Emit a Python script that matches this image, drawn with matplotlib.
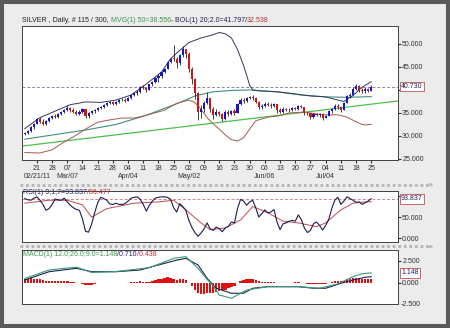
import numpy as np
import pandas as pd
import matplotlib
matplotlib.use('Agg')
import matplotlib.pyplot as plt
import matplotlib.transforms as mtransforms
from matplotlib.offsetbox import TextArea, HPacker, AnchoredOffsetbox
from matplotlib.patches import Rectangle
from matplotlib.lines import Line2D

plt.rcParams['font.family'] = ['Liberation Sans', 'DejaVu Sans']

# Daily silver bars, 15 Feb - 25 Jul 2011
dates = pd.bdate_range('2011-02-15', '2011-07-25')

open_ = [30.4, 30.7, 31.1, 31.9, 32.7, 33.6, 33.0, 32.7, 33.3, 33.9,
         34.4, 34.2, 34.8, 35.2, 35.6, 36.0, 35.6, 35.3, 34.8, 35.3,
         35.8, 34.3, 35.0, 35.4, 35.6, 36.1, 36.3, 36.8, 37.2, 37.3,
         37.0, 37.4, 37.8, 37.9, 37.7, 38.3, 39.0, 39.3, 39.5, 40.6,
         40.5, 40.0, 41.2, 41.7, 42.6, 43.0, 43.9, 44.6, 46.0, 47.0,
         46.8, 45.9, 47.5, 48.8, 47.8, 44.6, 42.3, 39.3, 35.3, 35.8,
         37.1, 38.2, 35.9, 34.5, 35.2, 34.7, 33.7, 35.3, 34.7, 35.4,
         35.0, 37.0, 37.9, 37.6, 38.2, 38.5, 38.3, 37.4, 36.3, 36.6,
         37.0, 36.8, 36.5, 36.9, 35.6, 35.3, 35.9, 35.6, 35.7, 36.0,
         35.8, 36.5, 36.2, 34.9, 35.0, 34.1, 34.7, 34.5, 34.8, 33.9,
         34.4, 35.4, 35.8, 36.6, 36.2, 35.7, 37.2, 38.6, 39.0, 40.3,
         40.8, 40.0, 39.7, 40.2, 39.8]
high = [30.9, 31.3, 32.1, 32.9, 33.9, 34.1, 33.6, 33.5, 34.1, 34.6,
        34.8, 35.0, 35.4, 35.9, 36.8, 36.3, 36.0, 35.6, 35.6, 36.0,
        35.9, 35.3, 35.6, 35.9, 36.3, 36.5, 37.0, 37.4, 37.6, 37.5,
        37.6, 38.0, 38.2, 38.3, 38.5, 39.2, 39.5, 39.9, 40.8, 41.0,
        40.7, 41.4, 41.9, 42.8, 43.4, 44.1, 44.8, 46.2, 47.0, 49.8,
        47.2, 47.8, 49.5, 49.0, 48.2, 44.9, 42.6, 39.6, 36.8, 37.5,
        39.5, 38.3, 36.2, 35.9, 35.5, 35.0, 35.6, 35.6, 35.7, 35.8,
        37.2, 38.2, 38.2, 38.5, 38.7, 38.8, 38.5, 37.5, 36.9, 37.3,
        37.4, 37.2, 37.1, 37.0, 36.0, 36.2, 36.1, 36.0, 36.2, 36.3,
        36.7, 36.7, 36.3, 35.3, 35.1, 34.9, 35.0, 35.0, 34.9, 34.6,
        35.6, 36.0, 36.9, 37.0, 36.4, 37.4, 38.9, 39.3, 40.6, 41.3,
        41.0, 40.5, 40.6, 40.5, 41.0]
low = [30.2, 30.5, 30.9, 31.6, 32.5, 32.8, 32.4, 32.3, 33.0, 33.6,
       33.9, 34.0, 34.5, 35.0, 35.4, 35.3, 35.0, 34.6, 34.6, 35.0,
       33.9, 34.0, 34.8, 35.1, 35.4, 35.8, 36.1, 36.5, 36.9, 36.8,
       36.7, 37.2, 37.5, 37.4, 37.6, 38.1, 38.7, 39.0, 39.3, 40.2,
       39.6, 39.9, 40.9, 41.5, 41.7, 42.7, 43.6, 44.5, 45.8, 46.2,
       44.8, 45.5, 47.2, 46.9, 43.8, 41.4, 38.1, 33.5, 34.0, 35.2,
       36.9, 35.3, 33.6, 34.3, 34.3, 33.2, 33.5, 34.3, 34.6, 34.6,
       34.9, 36.8, 37.2, 37.4, 38.0, 37.9, 37.1, 35.9, 35.8, 36.3,
       36.5, 36.1, 36.2, 35.1, 35.0, 35.1, 35.4, 35.3, 35.5, 35.6,
       35.7, 36.0, 34.5, 34.6, 33.7, 34.0, 34.3, 34.2, 33.5, 33.8,
       34.3, 35.1, 35.6, 35.9, 35.3, 35.6, 37.1, 38.2, 38.8, 40.0,
       39.6, 39.4, 39.4, 39.5, 39.7]
close = [30.7, 31.1, 31.9, 32.7, 33.6, 33.0, 32.7, 33.3, 33.9, 34.4,
         34.2, 34.8, 35.2, 35.6, 36.0, 35.6, 35.3, 34.8, 35.3, 35.8,
         34.3, 35.0, 35.4, 35.6, 36.1, 36.3, 36.8, 37.2, 37.3, 37.0,
         37.4, 37.8, 37.9, 37.7, 38.3, 39.0, 39.3, 39.5, 40.6, 40.5,
         40.0, 41.2, 41.7, 42.6, 43.0, 43.9, 44.6, 46.0, 46.8, 46.8,
         45.9, 47.5, 48.8, 47.8, 44.6, 42.3, 39.3, 35.3, 35.8, 37.1,
         38.2, 35.9, 34.5, 35.2, 34.7, 33.7, 35.3, 34.7, 35.4, 35.0,
         37.0, 37.9, 37.6, 38.2, 38.5, 38.3, 37.4, 36.3, 36.6, 37.0,
         36.8, 36.5, 36.9, 35.6, 35.3, 35.9, 35.6, 35.7, 36.0, 35.8,
         36.5, 36.2, 34.9, 35.0, 34.1, 34.7, 34.5, 34.8, 33.9, 34.4,
         35.4, 35.8, 36.6, 36.2, 35.7, 37.2, 38.6, 39.0, 40.3, 40.8,
         40.0, 39.7, 40.2, 39.8, 40.73]

# overlays (bar index, value)
upper_idx = [0, 5, 10, 15, 20, 25, 30, 35, 40, 45, 48, 51, 54, 58, 62, 64, 66, 68, 70,
             72, 73, 74, 75, 77, 83, 87, 94, 99, 103, 105, 108, 111, 114]
upper_val = [31.6, 34.0, 35.4, 36.8, 37.4, 37.3, 37.8, 38.9, 41.3, 43.9, 46.8, 48.6, 50.3,
             51.3, 52.0, 52.5, 52.2, 51.3, 48.8, 45.3, 43.2, 41.0, 40.0, 39.8, 39.6, 39.3,
             38.7, 38.5, 37.8, 37.5, 38.8, 40.6, 41.797]
lower_idx = [0, 5, 9, 13, 17, 20, 24, 28, 32, 36, 40, 46, 50, 54, 56, 58, 60, 62, 64, 66,
             68, 70, 72, 74, 76, 80, 83, 87, 92, 98, 103, 106, 109, 111, 112, 113, 114]
lower_val = [26.4, 26.3, 27.0, 28.7, 30.2, 31.5, 33.0, 33.5, 33.9, 33.9, 34.5, 35.6, 37.1,
             37.8, 37.3, 35.8, 34.0, 32.6, 31.5, 30.2, 29.2, 28.9, 29.6, 31.5, 33.3, 34.1,
             34.3, 35.0, 35.2, 34.6, 34.6, 34.1, 33.1, 32.5, 32.4, 32.45, 32.538]
ma_idx = [0, 10, 20, 30, 40, 50, 56, 62, 68, 74, 83, 91, 99, 106, 114]
ma_val = [29.3, 30.3, 31.3, 32.5, 34.5, 37.0, 38.7, 39.6, 39.9, 40.0, 39.6, 38.9, 38.5,
          38.4, 38.556]
trend_idx = [-0.9, 122.7]
trend_val = [27.8, 37.6]

rsi = [94, 91, 90, 95, 98, 90, 80, 66, 70, 80, 93, 91, 90, 95, 86, 78, 72, 68, 66, 45,
       16, 14, 33, 60, 84, 97, 94, 90, 81, 80, 83, 80, 80, 82, 88, 95, 97, 98, 92, 80,
       64, 78, 88, 95, 97, 98, 98, 97, 92, 72, 62, 82, 75, 66, 42, 25, 13, 4, 12, 22,
       36, 22, 18, 26, 22, 15, 24, 28, 38, 36, 70, 92, 88, 78, 86, 90, 72, 50, 58, 67,
       60, 62, 68, 38, 20, 34, 36, 40, 42, 40, 55, 44, 24, 13, 18, 34, 38, 30, 19, 30,
       44, 70, 90, 97, 80, 88, 98, 94, 90, 85, 86, 80, 84, 88, 93.837]
rsima_idx = [0, 8, 14, 19, 22, 27, 36, 44, 49, 53, 58, 61, 66, 71, 75, 80, 85, 90, 96, 99,
             104, 108, 112, 114]
rsima_val = [83, 90, 90, 79, 50, 70, 83, 86, 90, 67, 36, 20, 24, 43, 75, 60, 40, 36, 27, 36,
             67, 83, 86, 86.477]

macd_idx = [0, 8, 17, 22, 30, 41, 49, 53, 57, 60, 62, 64, 68, 73, 80, 90, 97, 103, 108, 111, 114]
macd_val = [0.5, 1.48, 1.8, 1.2, 1.3, 1.74, 2.8, 3.0, 1.67, 0.4, -0.3, -1.36, -1.74, -0.8,
            -0.42, -0.42, -0.6, -0.1, 0.72, 1.05, 1.148]
sig_idx = [0, 8, 17, 22, 30, 38, 44, 50, 53, 57, 60, 63, 68, 72, 75, 80, 90, 95, 99, 104,
           108, 112, 114]
sig_val = [0.34, 1.28, 1.67, 1.28, 1.28, 1.48, 2.05, 2.6, 2.8, 2.05, 0.53, -0.6, -1.17, -1.17,
           -0.6, -0.42, -0.42, -0.6, -0.6, -0.04, 0.34, 0.65, 0.71]
hist = [0.45, 0.5, 0.55, 0.5, 0.45, 0.4, 0.3, 0.2, 0.2, 0.2, 0.22, 0.2, 0.18, 0.2, 0.22,
        0.15, 0.1, 0.05, 0.0, -0.08, -0.18, -0.22, -0.2, -0.12, -0.05, 0.02, 0.03, 0.02, 0.0,
        -0.02, -0.03, -0.02, 0.0, 0.02, 0.05, 0.1, 0.12, 0.15, 0.18, 0.15, 0.08, 0.12, 0.2,
        0.3, 0.4, 0.5, 0.6, 0.65, 0.6, 0.45, 0.35, 0.45, 0.4, 0.3, 0.05, -0.35, -0.75, -1.1,
        -1.3, -1.25, -1.1, -1.15, -1.1, -1.0, -0.95, -0.85, -0.75, -0.6, -0.45, -0.3, -0.05,
        0.2, 0.3, 0.4, 0.45, 0.4, 0.3, 0.18, 0.15, 0.15, 0.12, 0.1, 0.1, 0.05, 0.0, 0.02,
        0.03, 0.05, 0.05, 0.06, 0.08, 0.05, -0.05, -0.12, -0.15, -0.12, -0.1, -0.1, -0.12,
        -0.08, 0.0, 0.1, 0.2, 0.25, 0.2, 0.28, 0.4, 0.5, 0.6, 0.6, 0.55, 0.45, 0.42, 0.45, 0.438]

month_days = ['2011-02-21', '2011-03-07', '2011-04-04', '2011-05-02', '2011-06-06', '2011-07-04']
month_labels = ['02/21/11', 'Mar/07', 'Apr/04', 'May/02', 'Jun/06', 'Jul/04']

W, H = 450, 328
FS = 5


def box(x0, y0, x1, y1):
    return [x0 / W, 1 - y1 / H, (x1 - x0) / W, (y1 - y0) / H]


def pieces(fig, x, y, parts, loc='center left'):
    areas = [TextArea(t, textprops=dict(color=c, size=FS)) for t, c in parts]
    pack = HPacker(children=areas, pad=0, sep=0, align='baseline')
    ab = AnchoredOffsetbox(loc=loc, child=pack, pad=0, borderpad=0, frameon=False,
                           bbox_to_anchor=(x / W, 1 - y / H), bbox_transform=fig.transFigure)
    fig.add_artist(ab)


def value_box(a, val, txt, edge='#c05050'):
    tr = mtransforms.blended_transform_factory(a.transAxes, a.transData)
    a.text(1.008, val, txt, transform=tr, ha='left', va='center', fontsize=FS,
           color='#202060', zorder=10,
           bbox=dict(boxstyle='square,pad=0.2', fc='white', ec=edge, lw=0.6))


def style(a):
    a.set_facecolor('white')
    for s in a.spines.values():
        s.set_color('#404040')
        s.set_linewidth(0.7)
    a.yaxis.tick_right()
    a.tick_params(axis='y', length=2, pad=1, labelsize=FS, colors='#303030')
    a.set_xlim(-0.9, 122.8)


def fmt3(v, pos):
    return '%.3f' % v


fig = plt.figure(figsize=(4.5, 3.28), dpi=100, facecolor='#ececec')
fig.add_artist(Rectangle((0, 0), 1, 1, transform=fig.transFigure, fill=False,
                         ec='#5a5a5a', lw=5.8))

x = np.arange(len(close))
o, h, l, c = map(np.array, (open_, high, low, close))
up = c >= o

# price panel
ax = fig.add_axes(box(22, 26, 398, 160))
style(ax)
ax.set_ylim(24.78, 53.9)
# the 40 level sits under the last-price box, so only its tick mark is kept
ax.set_yticks([25, 30, 35, 40, 45, 50])
ax.set_yticklabels(['25.000', '30.000', '35.000', '', '45.000', '50.000'])
ax.plot(trend_idx, trend_val, color='#4cc24c', lw=0.9, zorder=2)
ax.plot(ma_idx, ma_val, color='#3f9080', lw=0.8, zorder=2)
ax.plot(upper_idx, upper_val, color='#30395a', lw=0.7, zorder=2)
ax.plot(lower_idx, lower_val, color='#a35a52', lw=0.7, zorder=2)
ax.axhline(close[-1], color='#8888a0', lw=0.7, ls=(0, (3, 2)), zorder=1)
ax.vlines(x, l, h, color='#202020', lw=0.6, zorder=3)
ax.bar(x[up], (c - o)[up], bottom=o[up], width=0.7, color='#1414c8', lw=0, zorder=4)
ax.bar(x[~up], (o - c)[~up], bottom=c[~up], width=0.7, color='#d41414', lw=0, zorder=4)
value_box(ax, close[-1], '%.3f' % close[-1])

mondays = [i for i, d in enumerate(dates) if d.weekday() == 0]
ax.set_xticks(mondays)
ax.set_xticklabels([dates[i].strftime('%d') for i in mondays])
ax.tick_params(axis='x', length=2, pad=1.5, labelsize=FS, colors='#303030')
trx = mtransforms.blended_transform_factory(ax.transData, ax.transAxes)
for d, lab in zip(month_days, month_labels):
    ax.text(dates.get_loc(pd.Timestamp(d)), -0.12, lab, transform=trx, ha='center',
            va='center', fontsize=FS, color='#303030')

pieces(fig, 22, 20, [('SILVER , Daily, # 115 / 300, ', '#202020'),
                     ('MVG(1) 50=38.556', '#3a9a4a'),
                     (', ', '#202020'),
                     ('BOL(1) 20;2.0=41.797/', '#202060'),
                     ('32.538', '#c03030')])

# RSI panel
ax_rsi = fig.add_axes(box(22, 191, 398, 242))
style(ax_rsi)
ax_rsi.set_ylim(-9.5, 112)
ax_rsi.set_yticks([0, 50, 100])
ax_rsi.set_yticklabels(['0.000', '50.000', ''])
ax_rsi.set_xticks([])
ax_rsi.axhline(rsi[-1], color='#d08888', lw=0.7, ls=(0, (3, 2)))
ax_rsi.plot(rsima_idx, rsima_val, color='#c04a4a', lw=0.7)
ax_rsi.plot(x, rsi, color='#1c1c50', lw=0.8)
value_box(ax_rsi, rsi[-1], '%.3f' % rsi[-1])
pieces(fig, 23, 193, [('RSI(1) 9;1;7=93.837', '#202060'), ('/86.477', '#c03030')])

# MACD panel
ax_macd = fig.add_axes(box(22, 250, 398, 304))
style(ax_macd)
ax_macd.set_ylim(-2.39, 3.75)
ax_macd.set_yticks([0, 2.5])
ax_macd.yaxis.set_major_formatter(plt.FuncFormatter(fmt3))
ax_macd.set_xticks([])
ax_macd.bar(x, hist, width=0.8, color='#e01010', lw=0)
ax_macd.plot(sig_idx, sig_val, color='#1c2050', lw=0.8)
ax_macd.plot(macd_idx, macd_val, color='#3a9a78', lw=0.8)
value_box(ax_macd, macd_val[-1], '%.3f' % macd_val[-1])
fig.text(401 / W, 1 - 305 / H, '-2.500', fontsize=FS, color='#303030', va='center')
pieces(fig, 23, 254, [('MACD(1) 12.0;26.0;9.0=1.148', '#3a9a4a'), ('/0.710', '#202060'),
                      ('/0.438', '#c03030')])

# splitter bars between panels
for yy in (185, 246):
    fig.add_artist(Line2D([20 / W, 432 / W], [1 - yy / H] * 2, transform=fig.transFigure,
                          color='#b4b4b4', lw=2, ls=(0, (1, 1))))
    fig.text(430 / W, 1 - yy / H, 'x', fontsize=4, color='#707070', ha='center', va='center')

fig.savefig('out.png', dpi=100, facecolor=fig.get_facecolor())
